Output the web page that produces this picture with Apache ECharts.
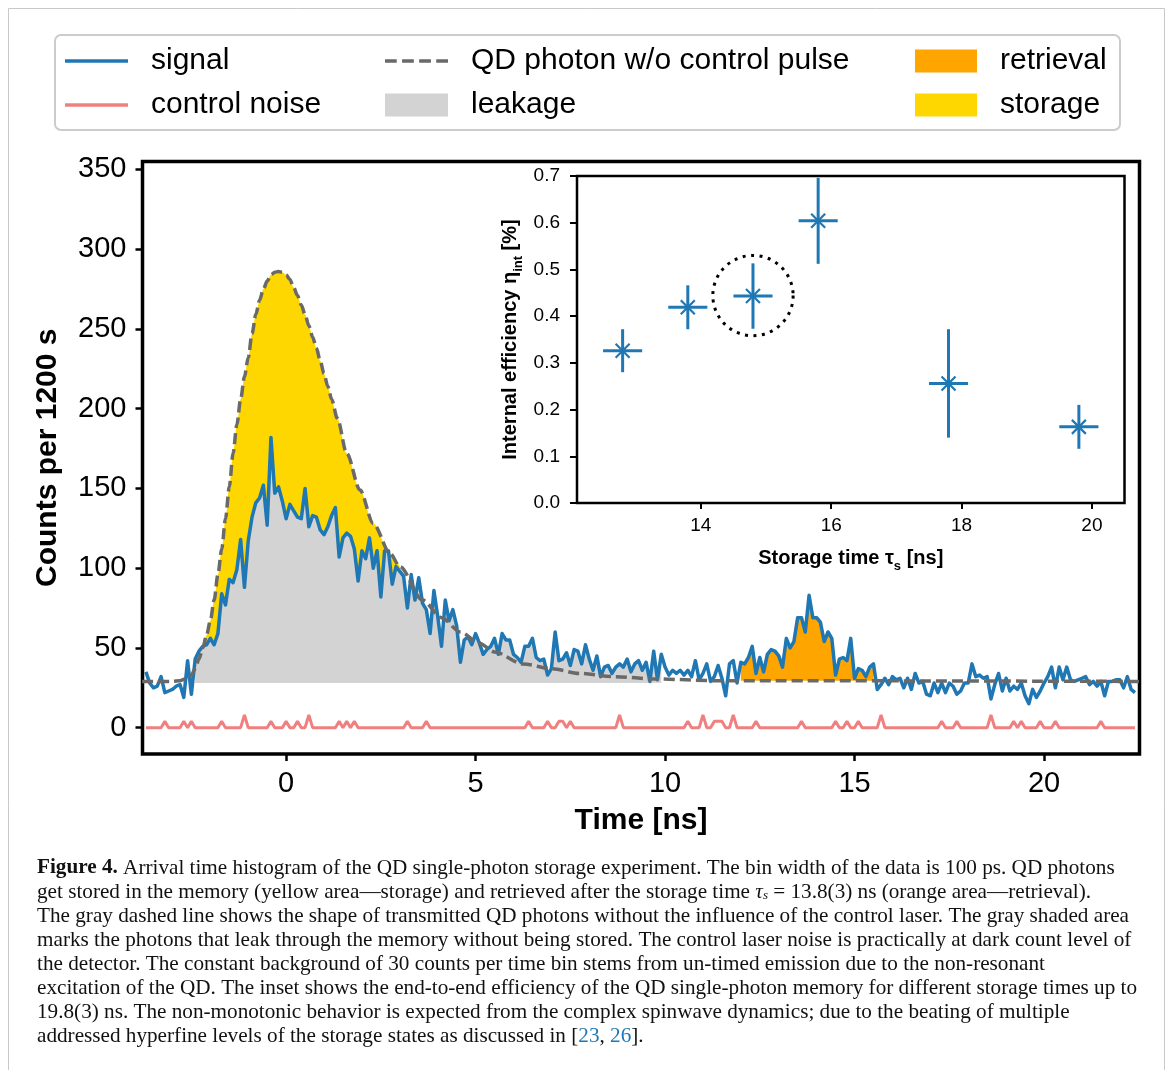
<!DOCTYPE html>
<html><head><meta charset="utf-8">
<script src="https://cdn.jsdelivr.net/npm/echarts@6/dist/echarts.min.js"></script>
<style>html,body{margin:0;padding:0;background:#fff}#c{width:1168px;height:1070px}</style>
</head><body><div id="c"></div>
<script>
// ---------------- data ----------------
const binStart = -3.7;   // ns, first histogram bin shown
const binWidth = 0.1;    // ns (100 ps bins)
const signalCounts = [
  35,28,25,26,32,22,23,24,26,27,
  19,42,21,43,48,51,52,56,52,59,
  84,77,93,91,99,118,88,117,132,141,
  144,152,127,182,147,151,142,131,140,136,
  132,131,150,126,133,132,124,121,126,133,
  138,107,119,122,120,112,92,111,106,119,
  100,111,82,111,111,90,101,98,95,75,
  96,80,94,78,74,59,86,70,51,80,
  67,74,64,41,55,57,52,59,53,46,
  49,51,56,46,59,55,55,46,44,41,
  51,51,56,44,42,43,33,37,60,42,
  43,47,39,49,48,40,52,43,36,45,
  32,38,39,34,38,40,38,43,35,40,
  42,36,41,29,48,30,46,38,33,36,
  34,36,33,36,32,42,30,34,40,29,
  32,39,31,20,40,42,28,41,40,44,
  51,34,44,35,46,49,48,45,38,56,
  50,54,69,69,60,83,69,69,66,54,
  60,56,33,43,44,42,56,31,37,36,
  32,38,40,24,27,31,27,32,30,31,
  25,31,24,34,28,29,21,20,28,22,
  28,22,28,26,21,23,28,28,40,32,
  33,31,32,18,27,34,23,31,23,26,
  24,28,20,15,24,19,23,28,32,38,
  25,38,30,38,30,29,30,31,32,27,
  29,26,29,20,29,29,30,30,25,32,
  24,22
];
// control-laser noise: non-zero bins only [time ns, counts]
const noiseSpikes = [
  [-3.2,4],[-2.7,4],[-2.5,4],[-1.7,4],[-1.1,8],[-0.4,4],[0.0,4],[0.3,4],[0.6,8],
  [1.4,4],[1.6,4],[1.8,4],[3.2,4],[3.7,4],[6.4,4],[6.9,4],[7.2,4],[7.3,4],[7.5,4],
  [8.8,8],[10.6,4],[11.0,8],[11.3,4],[11.4,4],[11.5,4],[11.8,8],[12.4,4],[13.6,4],
  [14.5,4],[14.8,4],[15.1,4],[15.7,8],[17.3,4],[17.7,4],[18.6,8],[19.2,4],[19.4,4],
  [19.9,4],[20.3,4],[21.5,4]
];
// QD photon shape without control pulse [time ns, counts]
const refCurve = [
  [-3.8,29],[-3.0,29],[-2.8,29.5],[-2.6,31],[-2.5,33],[-2.4,37],[-2.3,43],[-2.2,50],
  [-2.1,58],[-2.0,67],[-1.9,80],[-1.8,96],[-1.7,112],[-1.6,131],[-1.5,151],[-1.4,172],
  [-1.3,190],[-1.2,206],[-1.1,220],[-1.0,232],[-0.9,247],[-0.8,259],[-0.7,268],
  [-0.6,275],[-0.5,280],[-0.4,284],[-0.3,285.5],[-0.2,286],[-0.1,285.5],[0.0,284],
  [0.1,281],[0.2,276],[0.3,271],[0.4,265],[0.5,259],[0.6,252],[0.7,245],[0.8,238],
  [0.9,230],[1.0,222],[1.1,214],[1.2,206],[1.35,194],[1.6,172],[1.95,149],[2.3,128],
  [2.75,109],[3.0,101],[3.6,80],[4.1,69],[4.6,60],[5.1,53],[5.5,47.5],[6.25,40],
  [7.0,37],[7.75,34],[8.65,32],[9.8,30.5],[11.3,29.5],[22.6,29]
];
const background = 28;          // leakage fill floor
const retrievalFloor = 29.5;    // retrieval fill floor
const leakageRange = [-2.4, 9.9];
const storageRange = [-2.2, 3.0];
const retrievalRange = [12.0, 15.5];
const xTicks = [0, 5, 10, 15, 20];
const yTicks = [0, 50, 100, 150, 200, 250, 300, 350];

// inset
const insetTime = [12.8, 13.8, 14.8, 15.8, 17.8, 19.8];
const insetTimeErr = [0.3, 0.3, 0.3, 0.3, 0.3, 0.3];
const insetEff = [0.326, 0.419, 0.443, 0.604, 0.256, 0.163];
const insetEffErr = [0.046, 0.047, 0.070, 0.092, 0.116, 0.047];
const insetXTicks = [14, 16, 18, 20];
const highlighted = [14.8, 0.444, 0.616]; // centre time, centre eff, radius (ns)

// ---------------- build ----------------
const signal = signalCounts.map((v, i) => [+(binStart + i * binWidth).toFixed(1), v]);
const noiseMap = {};
noiseSpikes.forEach(p => { noiseMap[p[0].toFixed(1)] = p[1]; });
const noise = signal.map(p => [p[0], noiseMap[p[0].toFixed(1)] || 0]);
const inRange = (p, r) => p[0] >= r[0] - 1e-9 && p[0] <= r[1] + 1e-9;
const leakage = signal.filter(p => inRange(p, leakageRange));
const retrieval = signal.filter(p => inRange(p, retrievalRange));
const storage = refCurve.filter(p => inRange(p, storageRange));

const C = {blue:'#1f77b4', red:'#f08080', gray:'#696969', leak:'#d3d3d3', orange:'#ffa500', gold:'#ffd700'};
const FONT = 'Liberation Sans';
const lineIcon = 'path://M0,0h63v3.5h-63z';
const dashIcon = 'path://M0,0h11v3.5h-11zM16,0h11v3.5h-11zM32,0h11v3.5h-11zM48,0h11v3.5h-11z';

const legendBase = {orient:'vertical', itemWidth:63, itemHeight:23, itemGap:14, padding:0,
  selectedMode:false, textStyle:{fontSize:30, lineHeight:30, color:'#000', fontFamily:FONT, padding:[0,0,0,18]}};

const captionLines = [
 '{b|Figure 4.} Arrival time histogram of the QD single-photon storage experiment. The bin width of the data is 100 ps. QD photons',
 'get stored in the memory (yellow area—storage) and retrieved after the storage time {i|τ}{sub|s} = 13.8(3) ns (orange area—retrieval).',
 'The gray dashed line shows the shape of transmitted QD photons without the influence of the control laser. The gray shaded area',
 'marks the photons that leak through the memory without being stored. The control laser noise is practically at dark count level of',
 'the detector. The constant background of 30 counts per time bin stems from un-timed emission due to the non-resonant',
 'excitation of the QD. The inset shows the end-to-end efficiency of the QD single-photon memory for different storage times up to',
 '19.8(3) ns. The non-monotonic behavior is expected from the complex spinwave dynamics; due to the beating of multiple',
 'addressed hyperfine levels of the storage states as discussed in [{l|23}, {l|26}].'
];
const capFont = 'Liberation Serif';
const capSize = 21.2;
const captionGraphics = captionLines.map((t, i) => ({
  type:'text', x:37, y:868 + i*24, z:10,
  style:{text:t, fontFamily:capFont, fontSize:capSize, fill:'#111', verticalAlign:'middle',
    rich:{
      b:{fontFamily:capFont, fontSize:capSize, fontWeight:'bold', fill:'#111'},
      i:{fontFamily:capFont, fontSize:capSize, fontStyle:'italic', fill:'#111'},
      sub:{fontFamily:capFont, fontSize:13, fontStyle:'italic', fill:'#111', verticalAlign:'bottom', lineHeight:13},
      l:{fontFamily:capFont, fontSize:capSize, fill:'#1f77b4'}
    }}
}));

const option = {
  animation:false,
  backgroundColor:'#fff',
  textStyle:{fontFamily:FONT},
  graphic:[
    {type:'rect', z:0, shape:{x:8.5, y:8.5, width:1156, height:1080}, style:{fill:'none', stroke:'#c8c8c8', lineWidth:1}},
    {type:'rect', z:0, shape:{x:55, y:35, width:1065, height:95, r:6}, style:{fill:'#fff', stroke:'#cccccc', lineWidth:2}},
    ...captionGraphics
  ],
  legend:[
    Object.assign({}, legendBase, {left:65, top:46, data:[
      {name:'signal', icon:lineIcon, itemStyle:{color:C.blue, borderWidth:0}},
      {name:'control noise', icon:lineIcon, itemStyle:{color:C.red, borderWidth:0}}]}),
    Object.assign({}, legendBase, {left:385, top:46, data:[
      {name:'QD photon w/o control pulse', icon:dashIcon, itemStyle:{color:C.gray, borderWidth:0}},
      {name:'leakage', icon:'rect', itemStyle:{color:C.leak, borderWidth:0}}]}),
    Object.assign({}, legendBase, {left:915, top:46, itemWidth:62, data:[
      {name:'retrieval', icon:'rect', itemStyle:{color:C.orange, borderWidth:0}},
      {name:'storage', icon:'rect', itemStyle:{color:C.gold, borderWidth:0}}]})
  ],
  grid:[
    {left:142.5, top:161.5, width:997, height:592.5, show:true, borderColor:'#000', borderWidth:3.5, backgroundColor:'transparent'},
    {left:577, top:176, width:547.5, height:327, show:true, borderColor:'#000', borderWidth:2.5, backgroundColor:'#fff'}
  ],
  xAxis:[
    {type:'value', gridIndex:0, min:-3.79, max:22.52,
     axisLine:{show:false, onZero:false}, splitLine:{show:false},
     axisTick:{show:true, length:7, customValues:xTicks, lineStyle:{color:'#000', width:2.5}},
     axisLabel:{customValues:xTicks, fontSize:29, color:'#000', margin:15, fontFamily:FONT},
     name:'Time [ns]', nameLocation:'middle', nameGap:52,
     nameTextStyle:{fontSize:30, fontWeight:'bold', color:'#000', fontFamily:FONT}},
    {type:'value', gridIndex:1, min:12.1, max:20.5,
     axisLine:{show:false, onZero:false}, splitLine:{show:false},
     axisTick:{show:true, length:6, customValues:insetXTicks, lineStyle:{color:'#000', width:2}},
     axisLabel:{customValues:insetXTicks, fontSize:19, color:'#000', margin:13, fontFamily:FONT},
     name:'{b|Storage time τ}{s|s}{b| [ns]}', nameLocation:'middle', nameGap:40,
     nameTextStyle:{rich:{
       b:{fontSize:20, fontWeight:'bold', color:'#000', fontFamily:FONT, lineHeight:30},
       s:{fontSize:13, fontWeight:'bold', color:'#000', fontFamily:FONT, lineHeight:13, verticalAlign:'bottom'}}}}
  ],
  yAxis:[
    {type:'value', gridIndex:0, min:-16.5, max:355,
     axisLine:{show:false, onZero:false}, splitLine:{show:false},
     axisTick:{show:true, length:7, customValues:yTicks, lineStyle:{color:'#000', width:2.5}},
     axisLabel:{customValues:yTicks, fontSize:29, color:'#000', margin:16, fontFamily:FONT},
     name:'Counts per 1200 s', nameLocation:'middle', nameGap:80,
     nameTextStyle:{fontSize:30, fontWeight:'bold', color:'#000', fontFamily:FONT}},
    {type:'value', gridIndex:1, min:0, max:0.7, interval:0.1,
     axisLine:{show:false, onZero:false}, splitLine:{show:false},
     axisTick:{show:true, length:7, lineStyle:{color:'#000', width:2}},
     axisLabel:{fontSize:19, color:'#000', margin:17, fontFamily:FONT, formatter:v => v.toFixed(1)},
     name:'{b|Internal efficiency η}{s|int}{b| [%]}', nameLocation:'middle', nameGap:52,
     nameTextStyle:{rich:{
       b:{fontSize:20, fontWeight:'bold', color:'#000', fontFamily:FONT, lineHeight:30},
       s:{fontSize:13, fontWeight:'bold', color:'#000', fontFamily:FONT, lineHeight:13, verticalAlign:'bottom'}}}}
  ],
  series:[
    {name:'storage', type:'line', xAxisIndex:0, yAxisIndex:0, data:storage, z:1, silent:true,
     symbol:'none', smooth:0.3, smoothMonotone:'x', lineStyle:{width:0}, color:C.gold,
     areaStyle:{color:C.gold, opacity:1, origin:background}},
    {name:'leakage', type:'line', xAxisIndex:0, yAxisIndex:0, data:leakage, z:2, silent:true,
     symbol:'none', lineStyle:{width:0}, color:C.leak,
     areaStyle:{color:C.leak, opacity:1, origin:background}},
    {name:'retrieval', type:'line', xAxisIndex:0, yAxisIndex:0, data:retrieval, z:2, silent:true,
     symbol:'none', lineStyle:{width:0}, color:C.orange,
     areaStyle:{color:C.orange, opacity:1, origin:retrievalFloor}},
    {name:'signal', type:'line', xAxisIndex:0, yAxisIndex:0, data:signal, z:3, silent:true,
     symbol:'none', color:C.blue, lineStyle:{color:C.blue, width:3.5, join:'round'}},
    {name:'control noise', type:'line', xAxisIndex:0, yAxisIndex:0, data:noise, z:3, silent:true,
     symbol:'none', color:C.red, lineStyle:{color:C.red, width:3}},
    {name:'QD photon w/o control pulse', type:'line', xAxisIndex:0, yAxisIndex:0, data:refCurve, z:4, silent:true,
     symbol:'none', smooth:0.3, smoothMonotone:'x', color:C.gray,
     lineStyle:{color:C.gray, width:3.5, type:[11,5]}},
    {name:'efficiency', type:'custom', xAxisIndex:1, yAxisIndex:1, z:5, silent:true,
     data: insetTime.map((t, i) => [t, insetEff[i], insetTimeErr[i], insetEffErr[i]]),
     renderItem:(params, api) => {
       const x = api.value(0), y = api.value(1), dx = api.value(2), dy = api.value(3);
       const c = api.coord([x, y]);
       const l = api.coord([x - dx, y]), r = api.coord([x + dx, y]);
       const t = api.coord([x, y + dy]), b = api.coord([x, y - dy]);
       const m = 7;
       const st = {stroke:C.blue, lineWidth:3, fill:null};
       const sm = {stroke:C.blue, lineWidth:2.2, fill:null};
       return {type:'group', children:[
         {type:'line', shape:{x1:l[0], y1:l[1], x2:r[0], y2:r[1]}, style:st},
         {type:'line', shape:{x1:t[0], y1:t[1], x2:b[0], y2:b[1]}, style:st},
         {type:'line', shape:{x1:c[0]-m, y1:c[1]-m, x2:c[0]+m, y2:c[1]+m}, style:sm},
         {type:'line', shape:{x1:c[0]-m, y1:c[1]+m, x2:c[0]+m, y2:c[1]-m}, style:sm}
       ]};
     }},
    {name:'highlight', type:'custom', xAxisIndex:1, yAxisIndex:1, z:5, silent:true,
     data:[highlighted],
     renderItem:(params, api) => {
       const c = api.coord([api.value(0), api.value(1)]);
       const r = api.size([api.value(2), 0])[0];
       return {type:'circle', shape:{cx:c[0], cy:c[1], r:r},
         style:{fill:'none', stroke:'#000', lineWidth:3, lineDash:[3, 5.5]}};
     }}
  ]
};
const chart = echarts.init(document.getElementById('c'), null, {renderer:'canvas'});
chart.setOption(option);
</script></body></html>
